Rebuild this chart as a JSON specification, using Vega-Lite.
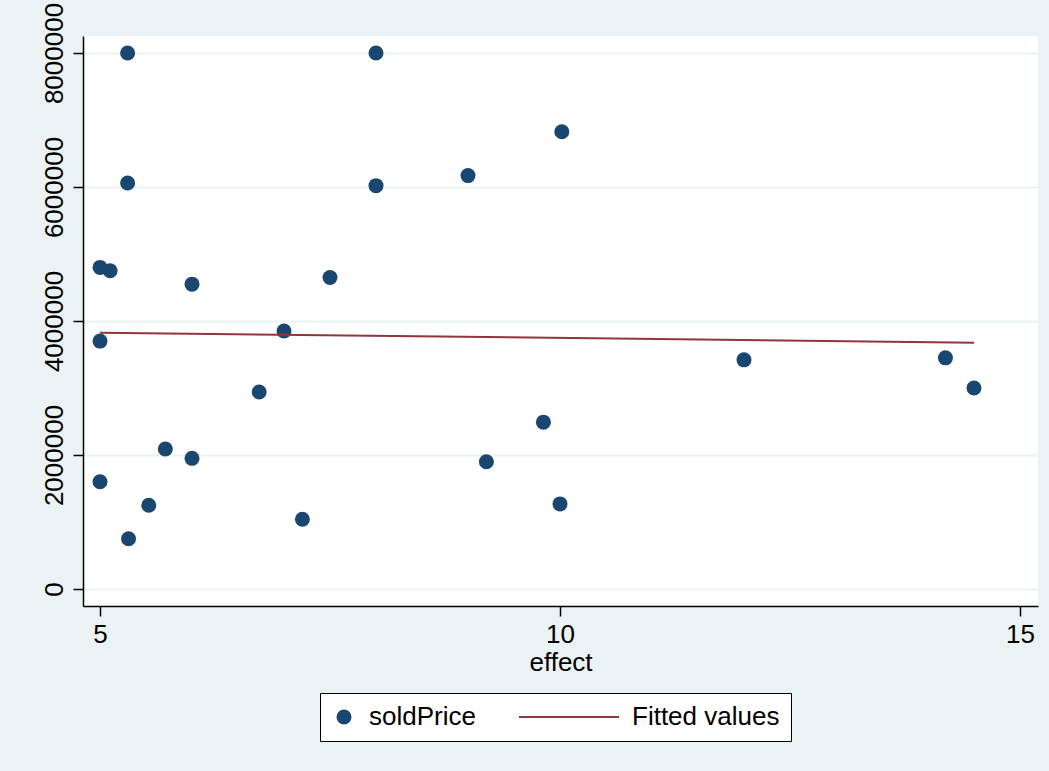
{
  "$schema": "https://vega.github.io/schema/vega-lite/v6.json",
  "width": 955,
  "height": 570,
  "autosize": {"type": "none"},
  "padding": {"left": 83, "top": 36, "right": 11, "bottom": 165},
  "background": "#EAF2F3",
  "config": {
    "view": {"fill": "white", "stroke": null},
    "font": "Liberation Sans",
    "legend": {
      "orient": "none",
      "legendX": 237,
      "legendY": 657,
      "direction": "horizontal",
      "fillColor": "white",
      "strokeColor": "black",
      "strokeWidth": 1,
      "padding": 11,
      "labelFontSize": 26,
      "labelColor": "black",
      "labelOffset": 12,
      "clipHeight": 26,
      "symbolOpacity": 1,
      "symbolStrokeWidth": 2,
      "columnPadding": 42
    }
  },
  "datasets": {
    "points": [
      {"effect": 5.3, "soldPrice": 8000000, "series": "soldPrice"},
      {"effect": 8.0, "soldPrice": 8000000, "series": "soldPrice"},
      {"effect": 10.02, "soldPrice": 6825000, "series": "soldPrice"},
      {"effect": 9.0, "soldPrice": 6170000, "series": "soldPrice"},
      {"effect": 5.3, "soldPrice": 6060000, "series": "soldPrice"},
      {"effect": 8.0, "soldPrice": 6020000, "series": "soldPrice"},
      {"effect": 5.0, "soldPrice": 4800000, "series": "soldPrice"},
      {"effect": 5.11, "soldPrice": 4750000, "series": "soldPrice"},
      {"effect": 6.0, "soldPrice": 4550000, "series": "soldPrice"},
      {"effect": 7.5, "soldPrice": 4650000, "series": "soldPrice"},
      {"effect": 7.0, "soldPrice": 3850000, "series": "soldPrice"},
      {"effect": 5.0, "soldPrice": 3700000, "series": "soldPrice"},
      {"effect": 12.0, "soldPrice": 3420000, "series": "soldPrice"},
      {"effect": 14.19, "soldPrice": 3450000, "series": "soldPrice"},
      {"effect": 14.5, "soldPrice": 3000000, "series": "soldPrice"},
      {"effect": 6.73, "soldPrice": 2940000, "series": "soldPrice"},
      {"effect": 9.82, "soldPrice": 2490000, "series": "soldPrice"},
      {"effect": 5.71, "soldPrice": 2090000, "series": "soldPrice"},
      {"effect": 6.0, "soldPrice": 1950000, "series": "soldPrice"},
      {"effect": 9.2, "soldPrice": 1900000, "series": "soldPrice"},
      {"effect": 5.0, "soldPrice": 1600000, "series": "soldPrice"},
      {"effect": 5.53, "soldPrice": 1250000, "series": "soldPrice"},
      {"effect": 10.0, "soldPrice": 1270000, "series": "soldPrice"},
      {"effect": 7.2, "soldPrice": 1040000, "series": "soldPrice"},
      {"effect": 5.31, "soldPrice": 750000, "series": "soldPrice"}
    ],
    "fit": [
      {"effect": 5.0, "soldPrice": 3826000, "series": "Fitted values"},
      {"effect": 14.5, "soldPrice": 3676000, "series": "Fitted values"}
    ]
  },
  "encoding": {
    "x": {
      "field": "effect",
      "type": "quantitative",
      "scale": {"domain": [4.815, 15.196], "nice": false, "zero": false},
      "axis": {
        "values": [5, 10, 15],
        "grid": false,
        "tickSize": 10,
        "tickColor": "black",
        "tickWidth": 1.5,
        "domainColor": "black",
        "domainWidth": 1.5,
        "labelFontSize": 26,
        "labelColor": "black",
        "labelPadding": 5,
        "labelFlush": false,
        "labelOverlap": false,
        "title": "effect",
        "titleFontSize": 26,
        "titleFontWeight": "normal",
        "titleColor": "black",
        "titlePadding": 2
      }
    },
    "y": {
      "field": "soldPrice",
      "type": "quantitative",
      "scale": {"domain": [-253700, 8253700], "nice": false, "zero": false},
      "axis": {
        "values": [0, 2000000, 4000000, 6000000, 8000000],
        "format": "d",
        "grid": true,
        "gridColor": "#EAF2F3",
        "gridWidth": 2,
        "tickSize": 10,
        "tickColor": "black",
        "tickWidth": 1.5,
        "domainColor": "black",
        "domainWidth": 1.5,
        "labelFontSize": 26,
        "labelColor": "black",
        "labelAngle": 270,
        "labelAlign": "center",
        "labelBaseline": "alphabetic",
        "labelPadding": 11,
        "labelFlush": false,
        "labelOverlap": false,
        "title": null
      }
    }
  },
  "layer": [
    {
      "data": {"name": "points"},
      "mark": {"type": "point", "filled": true, "opacity": 1},
      "encoding": {
        "fill": {
          "field": "series",
          "type": "nominal",
          "scale": {"domain": ["soldPrice", "Fitted values"], "range": ["#1A476F", "transparent"]},
          "legend": {"title": null}
        },
        "shape": {
          "field": "series",
          "type": "nominal",
          "scale": {"domain": ["soldPrice", "Fitted values"], "range": ["circle", "stroke"]},
          "legend": {"title": null}
        },
        "size": {
          "field": "series",
          "type": "nominal",
          "scale": {"type": "ordinal", "domain": ["soldPrice", "Fitted values"], "range": [225, 10000]},
          "legend": {"title": null}
        }
      }
    },
    {
      "data": {"name": "fit"},
      "mark": {"type": "line", "strokeWidth": 2},
      "encoding": {
        "stroke": {
          "field": "series",
          "type": "nominal",
          "scale": {"domain": ["soldPrice", "Fitted values"], "range": ["transparent", "#90353B"]},
          "legend": {"title": null}
        }
      }
    }
  ]
}
